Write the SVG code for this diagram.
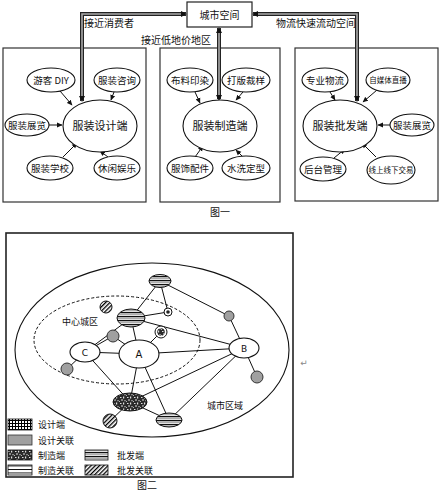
<svg xmlns="http://www.w3.org/2000/svg" width="440" height="492" viewBox="0 0 440 492">
<style>
text{font-family:"Noto Sans CJK SC","Liberation Sans",sans-serif;fill:#111;text-anchor:middle}
.t10{font-size:10px}
.t95{font-size:9.5px}
.t11{font-size:11px}
.t9{font-size:9px}
.t8{font-size:7.5px}
.panel{fill:#fff;stroke:#333;stroke-width:1.2}
.ell{fill:#fff;stroke:#111;stroke-width:1.1}
.arr{fill:none;stroke:#111;stroke-width:1;marker-end:url(#ah)}
.dbl{fill:none;stroke:#222;stroke-width:4}
.dblin{fill:none;stroke:#aaa;stroke-width:1.6}
.ln{fill:none;stroke:#111;stroke-width:1}
.nd{stroke:#111;stroke-width:1}
.gray{fill:#a0a0a0;stroke:#333;stroke-width:1}
</style>
<defs>
<marker id="ah" markerWidth="6" markerHeight="6" refX="5" refY="3" orient="auto" markerUnits="userSpaceOnUse"><path d="M0,0.5 L5.5,3 L0,5.5 Z" fill="#111"/></marker>
<pattern id="grid" width="3" height="3" patternUnits="userSpaceOnUse"><rect width="3" height="3" fill="#fff"/><path d="M0 0.5H3M0.5 0V3" stroke="#000" stroke-width="1"/></pattern>
<pattern id="stripes" width="4" height="4" patternUnits="userSpaceOnUse"><rect width="4" height="4" fill="#fff"/><rect width="4" height="1.3" fill="#111"/><rect y="2.4" width="4" height="0.8" fill="#777"/></pattern>
<pattern id="hatch" width="3" height="3" patternUnits="userSpaceOnUse" patternTransform="rotate(45)"><rect width="3" height="3" fill="#fff"/><rect width="1.3" height="3" fill="#000"/></pattern>
<pattern id="lines" width="4" height="3.5" patternUnits="userSpaceOnUse"><rect width="4" height="3.5" fill="#fff"/><rect width="4" height="0.9" fill="#000"/></pattern>
<pattern id="mottle" width="7" height="6" patternUnits="userSpaceOnUse"><rect width="7" height="6" fill="#2a2a2a"/><path d="M1 1h1.5v1h-1.5zM4 0.5h1.2v2h-1.2zM2 3.5h2v1h-2zM5.5 4h1v1.2h-1zM0 5h1v0.8h-1z" fill="#e0e0e0"/></pattern>
</defs>

<rect class="panel" x="3" y="48" width="143" height="154"/>
<rect class="panel" x="160" y="48" width="120" height="154"/>
<rect class="panel" x="295" y="48" width="143" height="153"/>

<g id="connectors1">
<path class="dbl" d="M82,101 V14 H186"/>
<path class="dblin" d="M82,101 V14 H186"/>
<path class="dbl" d="M219,28 V99"/>
<path class="dblin" d="M219,28 V99"/>
<path class="dbl" d="M253,14 H357 V101"/>
<path class="dblin" d="M253,14 H357 V101"/>
<path d="M187,14 l-6,-3 v6z" fill="#111"/>
<path d="M82,102 l-3,-6 h6z" fill="#111"/>
<path d="M219,27 l-3,6 h6z" fill="#111"/>
<path d="M219,101 l-3,-6 h6z" fill="#111"/>
<path d="M252,14 l6,-3 v6z" fill="#111"/>
<path d="M357,102 l-3,-6 h6z" fill="#111"/>
<path class="arr" d="M60,91 L72,105"/>
<path class="arr" d="M114,92 L111,100"/>
<path class="arr" d="M49,125 L62,125"/>
<path class="arr" d="M63,157 L77,143"/>
<path class="arr" d="M108,157 L100,151"/>
<path class="arr" d="M195,92 L200,103"/>
<path class="arr" d="M243,92 L236,100"/>
<path class="arr" d="M195,157 L203,146"/>
<path class="arr" d="M243,157 L236,150"/>
<path class="arr" d="M330,92 L335,100"/>
<path class="arr" d="M377,90 L363,102"/>
<path class="arr" d="M390,125 L378,125"/>
<path class="arr" d="M334,158 L345,149"/>
<path class="arr" d="M376,157 L362,143"/>
</g>

<g id="city"><rect x="187" y="2" width="65" height="25" fill="#fff" stroke="#222" stroke-width="1.2"/><text class="t10" x="219.5" y="18.5">城市空间</text></g>
<text class="t10" x="109" y="27">接近消费者</text>
<text class="t10" x="176" y="44">接近低地价地区</text>
<text class="t10" x="316" y="27">物流快速流动空间</text>

<g id="design"><ellipse class="ell" cx="100" cy="126" rx="37" ry="26"/><text class="t11" x="100" y="130">服装设计端</text></g>
<g id="diy"><ellipse class="ell" cx="51" cy="80" rx="24" ry="12"/><text class="t95" x="51" y="83.5">游客 DIY</text></g>
<g id="consult"><ellipse class="ell" cx="117" cy="80" rx="23" ry="12"/><text class="t95" x="117" y="83.5">服装咨询</text></g>
<g id="expo1"><ellipse class="ell" cx="27" cy="125" rx="22" ry="11"/><text class="t95" x="27" y="128.5">服装展览</text></g>
<g id="school"><ellipse class="ell" cx="50" cy="168" rx="23" ry="12"/><text class="t95" x="50" y="171.5">服装学校</text></g>
<g id="leisure"><ellipse class="ell" cx="117" cy="168" rx="23" ry="12"/><text class="t95" x="117" y="171.5">休闲娱乐</text></g>

<g id="manufacture"><ellipse class="ell" cx="220" cy="126" rx="37" ry="26"/><text class="t11" x="220" y="130">服装制造端</text></g>
<g id="dye"><ellipse class="ell" cx="190" cy="80" rx="23" ry="12"/><text class="t95" x="190" y="83.5">布料印染</text></g>
<g id="pattern"><ellipse class="ell" cx="246" cy="80" rx="24" ry="12"/><text class="t95" x="246" y="83.5">打版裁样</text></g>
<g id="access"><ellipse class="ell" cx="190" cy="168" rx="23" ry="12"/><text class="t95" x="190" y="171.5">服饰配件</text></g>
<g id="wash"><ellipse class="ell" cx="246" cy="168" rx="24" ry="12"/><text class="t95" x="246" y="171.5">水洗定型</text></g>

<g id="wholesale"><ellipse class="ell" cx="340" cy="126" rx="37" ry="26"/><text class="t11" x="340" y="130">服装批发端</text></g>
<g id="logistics"><ellipse class="ell" cx="325" cy="80" rx="23" ry="12"/><text class="t95" x="325" y="83.5">专业物流</text></g>
<g id="live"><ellipse class="ell" cx="388" cy="80" rx="22" ry="12"/><text class="t8" x="388" y="83">自媒体直播</text></g>
<g id="expo2"><ellipse class="ell" cx="412" cy="125" rx="22" ry="11"/><text class="t95" x="412" y="128.5">服装展览</text></g>
<g id="backend"><ellipse class="ell" cx="323" cy="169" rx="23" ry="12"/><text class="t95" x="323" y="172.5">后台管理</text></g>
<g id="trade"><ellipse class="ell" cx="391" cy="170" rx="24" ry="14"/><text class="t8" x="391" y="173">线上线下交易</text></g>

<text class="t10" x="220" y="216">图一</text>

<rect x="6" y="233" width="287" height="244" fill="#fff" stroke="#222" stroke-width="1.6"/>
<ellipse cx="152" cy="350" rx="137" ry="87" fill="none" stroke="#111" stroke-width="1.1"/>
<ellipse cx="117" cy="340" rx="83" ry="44" fill="none" stroke="#111" stroke-width="1" stroke-dasharray="3,2"/>
<text class="t9" x="80" y="325">中心城区</text>
<text class="t9" x="225" y="409">城市区域</text>

<g id="connectors2">
<path class="ln" d="M160,281 L131,318"/>
<path class="ln" d="M160,281 L168,312"/>
<path class="ln" d="M160,281 L229,316"/>
<path class="ln" d="M229,316 L244,348"/>
<path class="ln" d="M131,318 L168,312"/>
<path class="ln" d="M131,318 L244,348"/>
<path class="ln" d="M131,318 L85,352"/>
<path class="ln" d="M131,318 L139,354"/>
<path class="ln" d="M85,352 L113,336 L139,354"/>
<path class="ln" d="M161,332 L139,354"/>
<path class="ln" d="M85,352 L139,354 L244,348"/>
<path class="ln" d="M85,352 L67,369"/>
<path class="ln" d="M85,352 L130,402"/>
<path class="ln" d="M139,354 L130,402"/>
<path class="ln" d="M139,354 L169,420"/>
<path class="ln" d="M130,402 L244,348"/>
<path class="ln" d="M169,420 L244,348"/>
<path class="ln" d="M244,348 L257,377"/>
<path class="ln" d="M130,402 L169,420"/>
<path class="ln" d="M130,402 L110,421"/>
</g>

<g id="nodeA"><ellipse class="ell" cx="139" cy="354" rx="20" ry="14"/><text class="t10" x="139" y="358" style="font-family:'DejaVu Sans',sans-serif">A</text></g>
<g id="nodeB"><ellipse class="ell" cx="244" cy="348" rx="15" ry="10"/><text class="t9" x="244" y="351.5" style="font-family:'DejaVu Sans',sans-serif">B</text></g>
<g id="nodeC"><ellipse class="ell" cx="85" cy="352" rx="15" ry="10"/><text class="t9" x="85" y="355.5" style="font-family:'DejaVu Sans',sans-serif">C</text></g>
<g id="ws1"><ellipse cx="160" cy="281" rx="11" ry="6.5" fill="url(#stripes)" class="nd"/></g>
<g id="ws2"><ellipse cx="131" cy="318" rx="14" ry="9" fill="url(#stripes)" class="nd"/></g>
<g id="ws3"><ellipse cx="169" cy="420" rx="13" ry="7" fill="url(#stripes)" class="nd"/></g>
<g id="mf1"><ellipse cx="130" cy="402" rx="17" ry="9" fill="url(#mottle)" class="nd"/></g>
<g id="s1"><circle cx="168" cy="312" r="4" fill="#fff" class="nd"/><circle cx="168" cy="312" r="1.8" fill="#222"/></g>
<g id="s2"><circle cx="161" cy="332" r="6" fill="#fff" class="nd"/><circle cx="161" cy="332" r="3.8" fill="url(#mottle)"/></g>
<g id="h1"><circle cx="106" cy="307" r="6" fill="url(#hatch)" class="nd"/></g>
<g id="h2"><circle cx="110" cy="421" r="7" fill="url(#hatch)" class="nd"/></g>
<g id="g1"><circle cx="113" cy="336" r="6" class="gray"/></g>
<g id="g2"><circle cx="67" cy="369" r="6" class="gray"/></g>
<g id="g3"><circle cx="229" cy="316" r="5" class="gray"/></g>
<g id="g4"><circle cx="257" cy="377" r="6" class="gray"/></g>

<text x="304" y="366" style="font-size:9px;fill:#888;font-family:'DejaVu Sans',sans-serif">↵</text>

<g id="legend">
<rect x="8" y="419" width="24" height="11" fill="url(#grid)" stroke="#111" stroke-width="0.8"/>
<text class="t9" x="38" y="427.5" style="text-anchor:start">设计端</text>
<rect x="8" y="435" width="24" height="10" fill="#a0a0a0" stroke="#333" stroke-width="0.8"/>
<text class="t9" x="38" y="443.5" style="text-anchor:start">设计关联</text>
<rect x="8" y="450" width="24" height="10" fill="url(#mottle)" stroke="#111" stroke-width="0.8"/>
<text class="t9" x="38" y="458.5" style="text-anchor:start">制造端</text>
<rect x="85" y="450" width="23" height="10" fill="url(#stripes)" stroke="#111" stroke-width="0.8"/>
<text class="t9" x="117" y="458.5" style="text-anchor:start">批发端</text>
<rect x="8" y="465" width="24" height="10" fill="url(#lines)" stroke="#111" stroke-width="0.8"/>
<text class="t9" x="38" y="473.5" style="text-anchor:start">制造关联</text>
<rect x="85" y="465" width="23" height="10" fill="url(#hatch)" stroke="#111" stroke-width="0.8"/>
<text class="t9" x="117" y="473.5" style="text-anchor:start">批发关联</text>
</g>
<text class="t10" x="147" y="489">图二</text>
</svg>
